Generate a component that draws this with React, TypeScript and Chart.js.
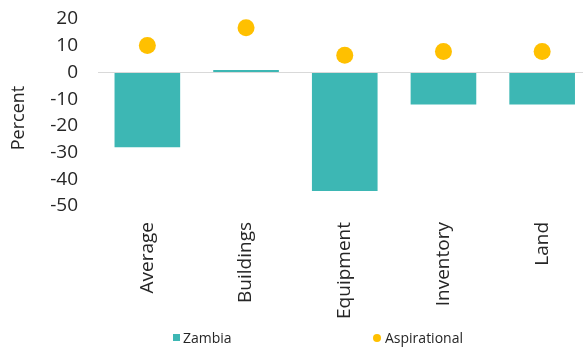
import React, { useEffect, useRef } from "react";
import { Chart, registerables } from "chart.js";

Chart.register(...registerables);

const categories = ["Average", "Buildings", "Equipment", "Inventory", "Land"];
const zambiaValues = [-28, 0.9, -44.4, -12, -12];
const aspirationalValues = [10.1, 16.7, 6.4, 7.8, 7.8];
const yTicks = { min: -50, max: 20, step: 10 };
const yTitle = "Percent";

const TEAL = "#3DB7B4";
const GOLD = "#FFC000";
const TEXT = "#262626";
const FONT = "'Open Sans', sans-serif";

// Vertical axis title, drawn beside the tick labels
const yTitlePlugin = {
  id: "yTitle",
  afterDraw(chart: any) {
    const ctx = chart.ctx;
    ctx.save();
    ctx.translate(19, 118);
    ctx.rotate(-Math.PI / 2);
    ctx.font = `18px ${FONT}`;
    ctx.fillStyle = TEXT;
    ctx.textAlign = "center";
    ctx.textBaseline = "middle";
    ctx.fillText(yTitle, 0, 0);
    ctx.restore();
  },
};

export default function App() {
  const canvasRef = useRef<HTMLCanvasElement | null>(null);

  useEffect(() => {
    if (!canvasRef.current) return;
    const chart = new Chart(canvasRef.current, {
      type: "bar",
      data: {
        labels: categories,
        datasets: [
          {
            type: "line",
            label: "Aspirational",
            data: aspirationalValues,
            showLine: false,
            pointRadius: 8.5,
            pointHoverRadius: 8.5,
            pointBackgroundColor: GOLD,
            pointBorderWidth: 0,
            borderColor: GOLD,
            backgroundColor: GOLD,
            clip: false,
            order: 0,
          } as any,
          {
            type: "bar",
            label: "Zambia",
            data: zambiaValues,
            backgroundColor: TEAL,
            borderWidth: 0,
            categoryPercentage: 0.665,
            barPercentage: 1,
            order: 1,
          },
        ],
      },
      options: {
        responsive: false,
        animation: false,
        layout: { padding: { top: 19, right: 5, bottom: 0, left: 0 } },
        plugins: {
          legend: { display: false },
          tooltip: { enabled: false },
        },
        scales: {
          x: {
            grid: { display: false, drawTicks: false },
            border: { display: false },
            ticks: {
              color: TEXT,
              font: { family: FONT, size: 19 },
              minRotation: 90,
              maxRotation: 90,
              padding: 16,
              autoSkip: false,
            },
            afterFit: (scale: any) => {
              scale.height = 144;
            },
          },
          y: {
            min: yTicks.min,
            max: yTicks.max,
            grid: {
              drawTicks: false,
              lineWidth: 1,
              color: (ctx: any) => (ctx.tick && ctx.tick.value === 0 ? "#d9d9d9" : "rgba(0,0,0,0)"),
            },
            border: { display: false },
            ticks: {
              stepSize: yTicks.step,
              autoSkip: false,
              color: TEXT,
              font: { family: FONT, size: 19 },
              padding: 20,
            },
            afterFit: (scale: any) => {
              scale.width = 98;
              scale.paddingTop = 0;
              scale.paddingBottom = 0;
            },
          },
        },
      },
      plugins: [yTitlePlugin],
    });
    return () => chart.destroy();
  }, []);

  const legendText: React.CSSProperties = {
    position: "absolute",
    top: 328,
    fontFamily: FONT,
    fontSize: 14,
    lineHeight: "20px",
    color: TEXT,
    whiteSpace: "nowrap",
  };

  return (
    <div
      style={{
        position: "fixed",
        left: 0,
        top: 0,
        width: 583,
        height: 350,
        overflow: "hidden",
        background: "#fff",
      }}
    >
      <canvas ref={canvasRef} width={600} height={350} style={{ position: "absolute", left: 0, top: 0 }} />
      <div style={{ position: "absolute", left: 173, top: 334, width: 7, height: 7, background: TEAL }} />
      <div style={{ ...legendText, left: 183 }}>Zambia</div>
      <div
        style={{
          position: "absolute",
          left: 372.5,
          top: 333.5,
          width: 8.5,
          height: 8.5,
          borderRadius: "50%",
          background: GOLD,
        }}
      />
      <div style={{ ...legendText, left: 385 }}>Aspirational</div>
    </div>
  );
}
